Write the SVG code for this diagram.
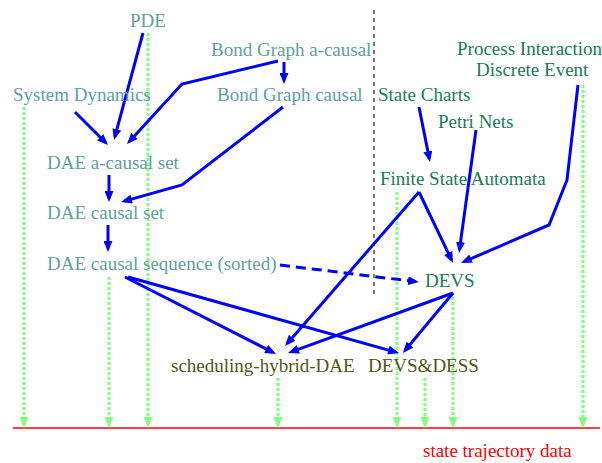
<svg xmlns="http://www.w3.org/2000/svg" width="602" height="463" viewBox="0 0 602 463">
<style>
text{font-family:"Liberation Serif","Times New Roman",serif;font-size:19px}
.l{fill:#60a0a0}
.r{fill:#1a7a5c}
.b{fill:#555522}
.red{fill:#ff0000}
.bl{fill:none;stroke:#0000ff;stroke-width:3;marker-end:url(#ab)}
.gr{fill:none;stroke:#80ff80;stroke-width:3;stroke-dasharray:3 2;marker-end:url(#ag)}
</style>
<defs>
<marker id="ab" markerUnits="userSpaceOnUse" markerWidth="11" markerHeight="9" refX="7.5" refY="4.5" orient="auto" viewBox="0 0 11 9"><path d="M0,0 L11,4.5 L0,9 z" fill="#0000ff"/></marker>
<marker id="ag" markerUnits="userSpaceOnUse" markerWidth="11" markerHeight="9" refX="7.5" refY="4.5" orient="auto" viewBox="0 0 11 9"><path d="M0,0 L11,4.5 L0,9 z" fill="#80ff80"/></marker>
</defs>
<rect width="602" height="463" fill="#ffffff"/>
<g id="separator"><line x1="374" y1="10" x2="374" y2="295" stroke="#333" stroke-width="1.3" stroke-dasharray="4 4"/></g>
<g id="timeline"><line x1="13" y1="428" x2="600" y2="428" stroke="#ff0000" stroke-width="1.5"/></g>
<g id="connectors">
<g id="trajectories">
<line class="gr" x1="24" y1="107" x2="24" y2="424.5"/>
<line class="gr" x1="109" y1="277" x2="109" y2="424.5"/>
<line class="gr" x1="148" y1="33" x2="148" y2="424.5"/>
<line class="gr" x1="278" y1="378" x2="278" y2="424.5"/>
<line class="gr" x1="397" y1="192" x2="397" y2="424.5"/>
<line class="gr" x1="425" y1="378" x2="425" y2="424.5"/>
<line class="gr" x1="453" y1="297" x2="453" y2="424.5"/>
<line class="gr" x1="583" y1="85" x2="583" y2="424.5"/>
</g>
<g id="flows">
<polyline class="bl" points="143,33 114.9,136.6"/>
<polyline class="bl" points="75,112 105.5,142.5"/>
<polyline class="bl" points="278,61 182,84 129.4,141.4"/>
<polyline class="bl" points="284,62 284,80.5"/>
<polyline class="bl" points="283,107 182,185 124.4,201.1"/>
<polyline class="bl" points="109,175 109,198.5"/>
<polyline class="bl" points="108,225 108,248.5"/>
<polyline class="bl" points="280,265 415.5,281.6" stroke-dasharray="10 6"/>
<polyline class="bl" points="419,107 429.3,158.6"/>
<polyline class="bl" points="476,130 459.5,249.5"/>
<polyline class="bl" points="578,85 567,180 549,225 464.2,261.6"/>
<polyline class="bl" points="419,192 451.5,259.8"/>
<polyline class="bl" points="419,192 287.3,343.4"/>
<polyline class="bl" points="125,277 272.9,352.4"/>
<polyline class="bl" points="128,277 395.6,352.1"/>
<polyline class="bl" points="453,293 291.3,351.8"/>
<polyline class="bl" points="453,293 405.2,350.3"/>
</g>
</g>
<g id="pde"><text class="l" x="130" y="27">PDE</text></g>
<g id="bond-graph-acausal"><text class="l" x="211" y="56">Bond Graph a-causal</text></g>
<g id="system-dynamics"><text class="l" x="13" y="101">System Dynamics</text></g>
<g id="bond-graph-causal"><text class="l" x="217" y="101">Bond Graph causal</text></g>
<g id="dae-acausal-set"><text class="l" x="47" y="169">DAE a-causal set</text></g>
<g id="dae-causal-set"><text class="l" x="47" y="219">DAE causal set</text></g>
<g id="dae-causal-sequence"><text class="l" x="47" y="270">DAE causal sequence (sorted)</text></g>
<g id="process-interaction"><text class="r" x="457" y="55">Process Interaction</text><text class="r" x="476" y="76">Discrete Event</text></g>
<g id="state-charts"><text class="r" x="378" y="101">State Charts</text></g>
<g id="petri-nets"><text class="r" x="438" y="128">Petri Nets</text></g>
<g id="fsa"><text class="r" x="380" y="185">Finite State Automata</text></g>
<g id="devs"><text class="r" x="425" y="287">DEVS</text></g>
<g id="scheduling-hybrid-dae"><text class="b" x="171" y="372">scheduling-hybrid-DAE</text></g>
<g id="devs-dess"><text class="b" x="368" y="372">DEVS&amp;DESS</text></g>
<g id="state-trajectory-data"><text class="red" x="423" y="457">state trajectory data</text></g>
</svg>
